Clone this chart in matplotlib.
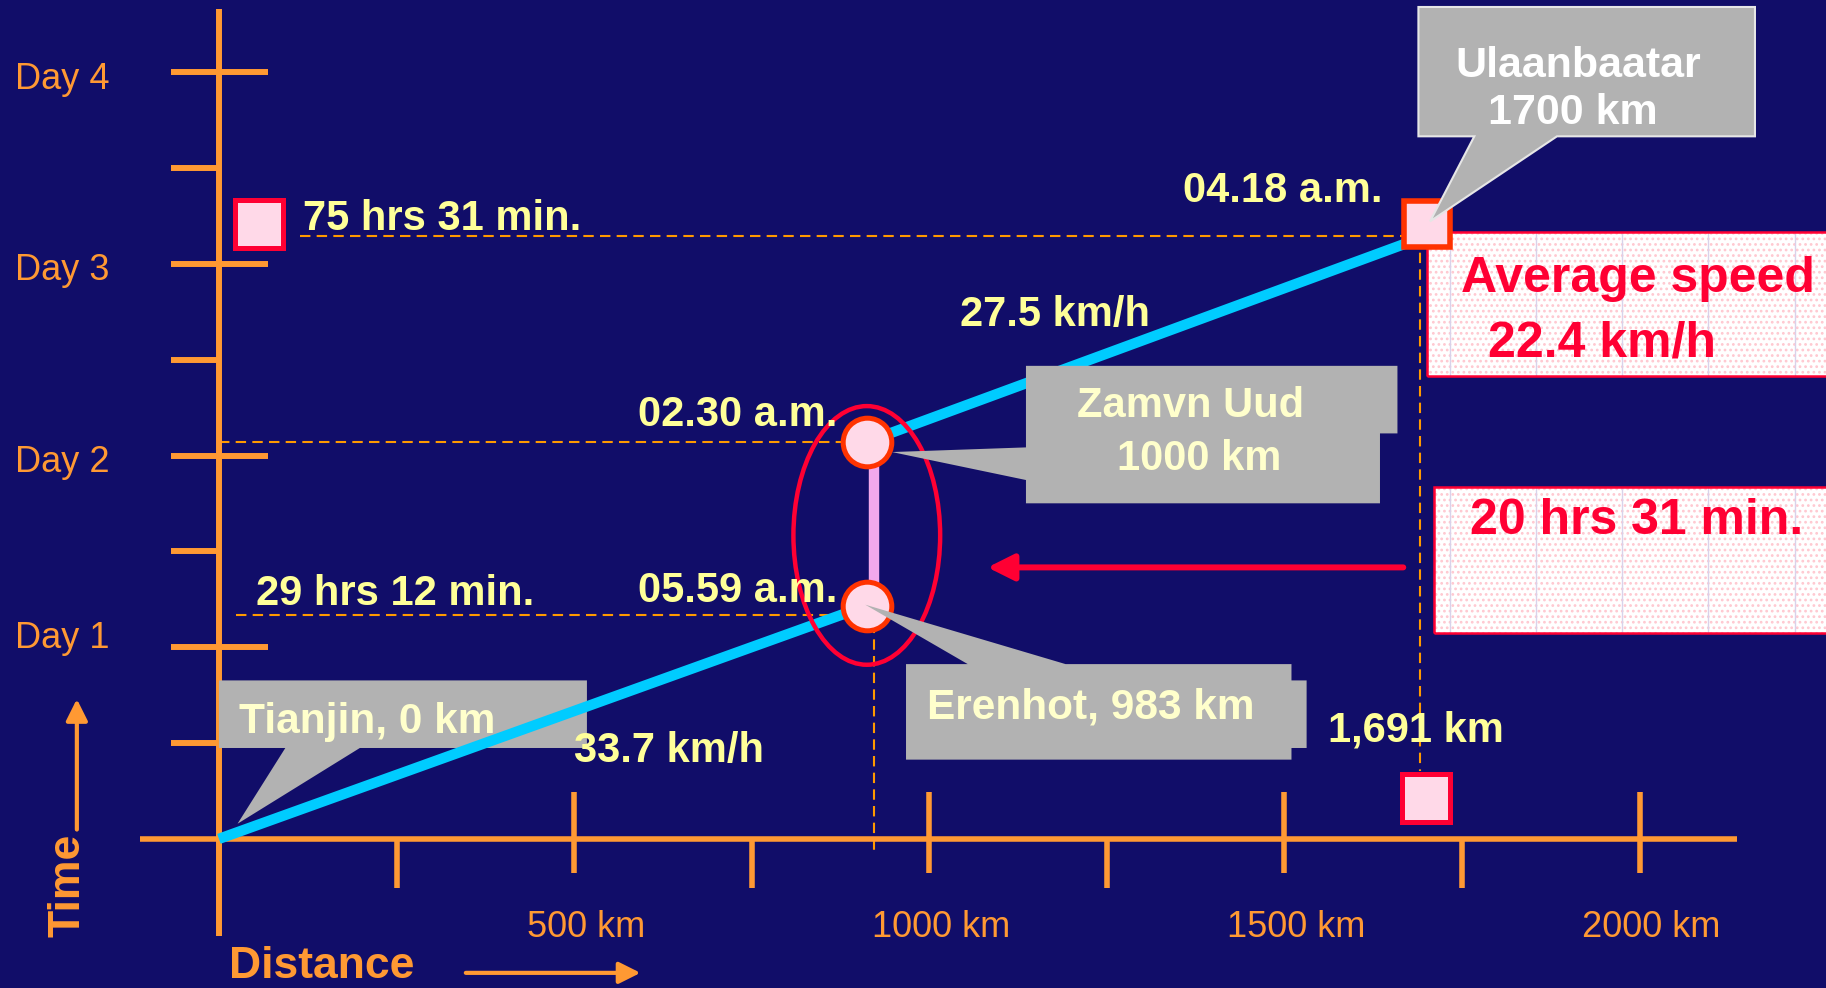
import matplotlib
matplotlib.use('Agg')
import matplotlib.pyplot as plt
import matplotlib.transforms as mtransforms
from matplotlib.patches import Polygon, Ellipse, Rectangle
import numpy as np

# --- journey data -------------------------------------------------------
stations = ['Tianjin', 'Erenhot', 'Zamyn Uud', 'Ulaanbaatar']
station_km = [0, 912, 912, 1700]          # where the sketch puts them on the distance axis
station_hours = [0, 29 + 12/60, 49 + 43/60, 75 + 31/60]   # hours after leaving Tianjin
border_km = 1691

day_ticks = [24, 48, 72, 96]
half_day_ticks = [12, 36, 60, 84]
day_labels = ['Day 1', 'Day 2', 'Day 3', 'Day 4']
km_major = [500, 1000, 1500, 2000]
km_minor = [250, 750, 1250, 1750]
km_labels = ['500 km', '1000 km', '1500 km', '2000 km']

# --- colours --------------------------------------------------------------
BG = '#110D69'
ORANGE = '#FF9933'
DASH = '#FF9900'
CYAN = '#00CCFF'
YELLOW = '#FFFF99'
CREAM = '#FFFFCC'
GRAY = '#B2B2B2'
CRIMSON = '#FF0033'
REDORANGE = '#FF3300'
PINK = '#FFD9E8'
LILAC = '#F3A8EC'

# layout is measured on a 1568x848 copy of the slide
W, H = 1568, 848
X0, KX = 188, 0.61      # px of 0 km, px per km
Y0, KY = 720, 6.854     # px of 0 h, px per hour
PT = 1826 / W * 0.72    # slide px -> points


def P(x, y):
    return (x - X0) / KX, (Y0 - y) / KY


def dx(px):
    return px / KX


def dy(px):
    return px / KY


plt.rcParams['font.family'] = ['Liberation Sans', 'DejaVu Sans']
plt.rcParams['hatch.linewidth'] = 1.2

fig = plt.figure(figsize=(18.26, 9.88), dpi=100)
fig.patch.set_facecolor(BG)
ax = fig.add_axes([0, 0, 1, 1])
ax.set_facecolor(BG)
ax.axis('off')
ax.set_xlim(P(0, 0)[0], P(W, 0)[0])
ax.set_ylim(P(0, H)[1], P(0, 0)[1])
ax.autoscale(False)

# axes with their ticks
ax.plot([P(120, 0)[0], P(1492, 0)[0]], [0, 0], color=ORANGE, lw=4, solid_capstyle='butt', zorder=2)
ax.plot([0, 0], [P(0, 803)[1], P(0, 8)[1]], color=ORANGE, lw=4.3, solid_capstyle='butt', zorder=2)
ax.hlines(day_ticks, -dx(41), dx(42), color=ORANGE, lw=4.3, capstyle='butt', zorder=2)
ax.hlines(half_day_ticks, -dx(41), 0, color=ORANGE, lw=4.3, capstyle='butt', zorder=2)
ax.vlines(km_major, -dy(29), dy(40), color=ORANGE, lw=4, capstyle='butt', zorder=2)
ax.vlines(km_minor, -dy(42), 0, color=ORANGE, lw=4, capstyle='butt', zorder=2)

day_nudge = [13, 0, 0, 0]
for h, lab, n in zip(day_ticks, day_labels, day_nudge):
    ax.text(P(13, 0)[0], h - dy(14 - n), lab, color=ORANGE, fontsize=26, va='baseline', ha='left')
for k, lab in zip(km_major, km_labels):
    ax.text(k + dx(10), P(0, 804)[1], lab, color=ORANGE, fontsize=26, va='baseline', ha='center')

ax.text(*P(197, 839), 'Distance', color=ORANGE, fontsize=32, fontweight='bold', va='baseline', ha='left')
ax.text(*P(58, 804), 'Time', color=ORANGE, fontsize=32, fontweight='bold', rotation=90,
        va='bottom', ha='center')
arrow = dict(arrowstyle='-|>,head_length=1,head_width=0.5', mutation_scale=13,
             color=ORANGE, lw=3, shrinkA=0, shrinkB=0)
ax.annotate('', xy=P(550, 835), xytext=P(400, 835), arrowprops=arrow)
ax.annotate('', xy=P(66, 600), xytext=P(66, 712), arrowprops=arrow)

# dashed guide lines
dash = dict(color=DASH, lw=1.5, ls=(0, (5, 3)), zorder=1)
ax.plot([P(258, 0)[0], station_km[3]], [station_hours[3]] * 2, **dash)
ax.plot([0, station_km[2]], [station_hours[2]] * 2, **dash)
ax.plot([P(203, 0)[0], station_km[1]], [station_hours[1] - dy(8)] * 2, **dash)
ax.plot([station_km[1] + dx(6)] * 2, [station_hours[1], -dy(15)], **dash)
ax.plot([border_km] * 2, [station_hours[3], dy(58)], **dash)

# train path
ax.plot(station_km[:2], station_hours[:2], color=CYAN, lw=7.5, solid_capstyle='butt', zorder=4)
ax.plot(station_km[2:], station_hours[2:], color=CYAN, lw=7.5, solid_capstyle='butt', zorder=3)
ax.plot([station_km[1] + dx(6)] * 2, station_hours[1:3], color=LILAC, lw=7.5, zorder=3)

ax.add_patch(Ellipse((station_km[1], (station_hours[1] + station_hours[2]) / 2 - dy(10)),
                     dx(126), dy(222), fill=False, ec=CRIMSON, lw=3.2, zorder=5))
ax.plot(station_km[1:3], station_hours[1:3], 'o', ms=35, mfc=PINK, mec=REDORANGE, mew=3.6, zorder=6)


def shifted(x_px, y_px):
    return mtransforms.offset_copy(ax.transData, fig=fig, x=x_px * PT, y=y_px * PT, units='points')


ax.plot(station_km[3], station_hours[3], 's', ms=33, mfc=PINK, mec=REDORANGE, mew=4,
        transform=shifted(0, 10), zorder=6)
ax.plot(0, station_hours[3], 's', ms=34, mfc=PINK, mec=CRIMSON, mew=3.6,
        transform=shifted(34, 10), zorder=6)
ax.plot(border_km, 0, 's', ms=34, mfc=PINK, mec=CRIMSON, mew=3.6,
        transform=shifted(5, 35), zorder=6)


# grey call-outs
def callout(pts, z, **kw):
    ax.add_patch(Polygon([P(x, y) for x, y in pts], closed=True, fc=GRAY, zorder=z, **kw))


callout([(188, 584), (504, 584), (504, 642), (309, 642), (204, 707), (245, 642), (188, 642)], 3, lw=0)
callout([(881, 314), (1200, 314), (1200, 372), (1185, 372), (1185, 432), (881, 432), (881, 412),
         (766, 388), (881, 384)], 7, lw=0)
callout([(778, 570), (831, 570), (743, 519), (915, 570), (1109, 570), (1109, 584), (1122, 584),
         (1122, 642), (1109, 642), (1109, 652), (778, 652)], 7, lw=0)
callout([(1218, 6), (1507, 6), (1507, 117), (1337, 117), (1228, 190), (1266, 117), (1218, 117)], 7,
        ec='#E6E6E6', lw=1.5)

ax.text(*P(205, 629), 'Tianjin, 0 km', color=CREAM, fontsize=30.5, fontweight='bold', zorder=8)
ax.text(*P(1022, 358), 'Zamvn Uud', color=CREAM, fontsize=30, fontweight='bold', ha='center', zorder=8)
ax.text(*P(1030, 403), '1000 km', color=CREAM, fontsize=30, fontweight='bold', ha='center', zorder=8)
ax.text(*P(796, 617), 'Erenhot, 983 km', color=CREAM, fontsize=30.5, fontweight='bold', zorder=8)
ax.text(*P(1355, 66), 'Ulaanbaatar', color='white', fontsize=31, fontweight='bold', ha='center', zorder=8)
ax.text(*P(1351, 106), '1700 km', color='white', fontsize=31, fontweight='bold', ha='center', zorder=8)

# yellow values
values = [(260, 197, '75 hrs 31 min.'), (1016, 173, '04.18 a.m.'), (824, 280, '27.5 km/h'),
          (548, 366, '02.30 a.m.'), (220, 519, '29 hrs 12 min.'), (548, 517, '05.59 a.m.'),
          (493, 654, '33.7 km/h'), (1140, 636, '1,691 km')]
for x, y, s in values:
    ax.text(*P(x, y), s, color=YELLOW, fontsize=30, fontweight='bold', va='baseline', zorder=8)

# pink dotted boxes
for x, y, h in [(1225, 199, 124), (1231, 418, 125)]:
    ax.add_patch(Rectangle(P(x, y + h), dx(400), dy(h), fc='white', ec='#FFC8D0', hatch='...',
                           lw=0, zorder=5))
    ax.vlines(P(np.arange(1245, 1568, 74), 0)[0], *sorted([P(0, y)[1], P(0, y + h)[1]]),
              color='#D9D2EA', lw=1, zorder=5)
    ax.add_patch(Rectangle(P(x, y + h), dx(400), dy(h), fill=False, ec=CRIMSON, lw=1.8, zorder=5))
ax.text(*P(1255, 251), 'Average speed', color=CRIMSON, fontsize=36, fontweight='bold', zorder=8)
ax.text(*P(1278, 306), '22.4 km/h', color=CRIMSON, fontsize=36, fontweight='bold', zorder=8)
ax.text(*P(1262, 458), '20 hrs 31 min.', color=CRIMSON, fontsize=36, fontweight='bold', zorder=8)

ax.annotate('', xy=P(848, 487), xytext=P(1205, 487),
            arrowprops=dict(arrowstyle='-|>,head_length=1,head_width=0.5', mutation_scale=16,
                            color=CRIMSON, lw=4.3, shrinkA=0, shrinkB=0))

fig.savefig('out.png', dpi=100, facecolor=BG)
